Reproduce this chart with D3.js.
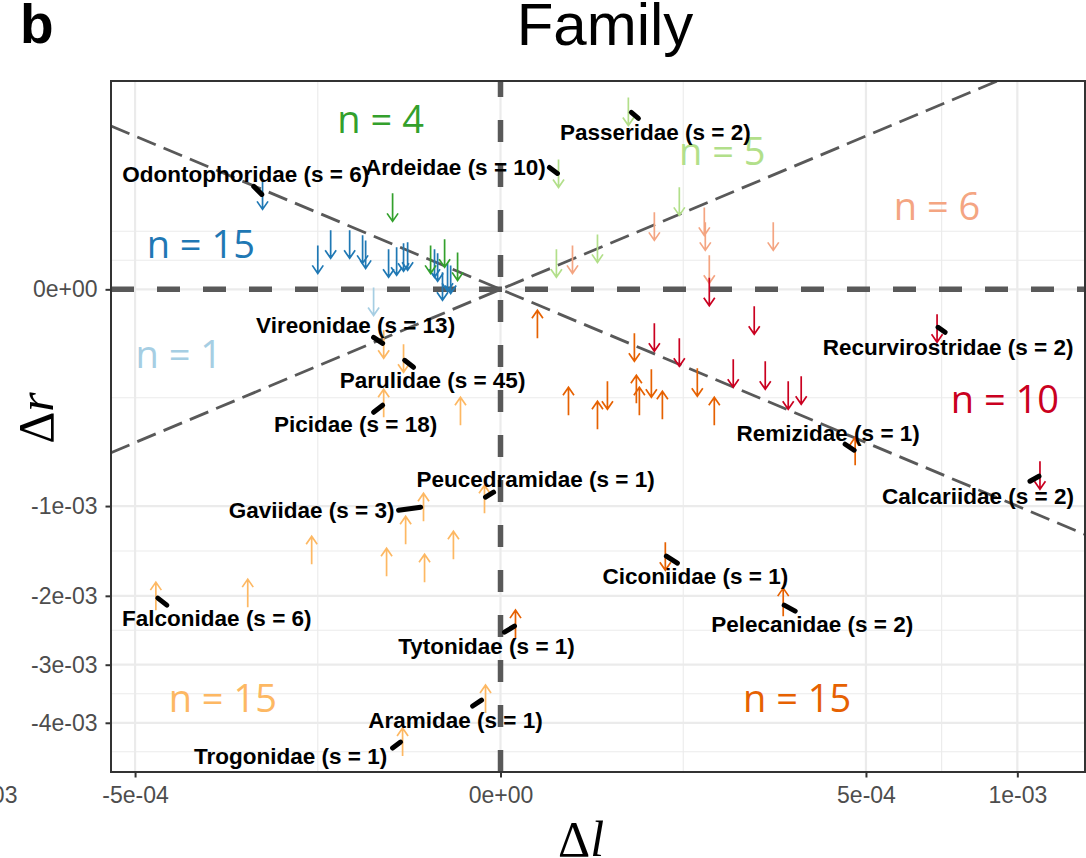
<!DOCTYPE html>
<html>
<head>
<meta charset="utf-8">
<script src="https://cdn.jsdelivr.net/npm/d3@7"></script>
<style>
  body { margin: 0; background: #fff; }
  svg { display: block; }
</style>
</head>
<body>
<div id="chart"></div>
<script>
// each arrow: [delta l, delta r, direction]  (-1 = down arrow, 1 = up arrow)
const blueArrows = [
  [-2.12e-4, 1.88e-4, -1], [-1.25e-4, 1.91e-5, -1], [-1.08e-4, 4.31e-5, -1], [-8.52e-5, 4.31e-5, -1],
  [-7.12e-5, 3.40e-5, -1], [-6.81e-5, 2.60e-5, -1], [-4.69e-5, 1.44e-5, -1], [-4.04e-5, 1.67e-5, -1],
  [-3.52e-5, 2.18e-5, -1], [-3.23e-5, 2.32e-5, -1], [-1.63e-5, 1.44e-5, -1], [-1.48e-5, 1.03e-5, -1],
  [-1.26e-5, 1.9e-7, -1], [-1.05e-5, 3.1e-6, -1], [-9.3e-6, 2.1e-6, -1]
];
const greenArrows = [
  [-4.36e-5, 1.43e-4, -1], [-1.83e-5, 1.91e-5, -1], [-1.17e-5, 2.76e-5, -1], [-6.9e-6, 1.12e-5, -1]
];
const lightBlueArrows = [
  [-6.03e-5, -3.1e-6, -1]
];
const lightGreenArrows = [
  [6.12e-5, 6.74e-4, -1], [1.26e-5, 2.86e-4, -1], [1.197e-4, 1.647e-4, -1], [3.52e-5, 3.57e-5, -1],
  [1.17e-5, 1.44e-5, -1]
];
const salmonArrows = [
  [8.86e-5, 8.44e-5, -1], [1.94e-5, 1.91e-5, -1], [1.555e-4, 9.83e-5, -1], [1.57e-4, 5.97e-5, -1],
  [1.632e-4, 8.5e-6, -1], [2.785e-4, 5.97e-5, -1]
];
const redArrows = [
  [1.632e-4, -1.3e-7, -1], [2.41e-4, -2.04e-5, -1], [8.86e-5, -4.9e-5, -1], [1.197e-4, -8.44e-5, -1],
  [2.028e-4, -1.5e-4, -1], [2.624e-4, -1.573e-4, -1], [3.099e-4, -2.389e-4, -1], [3.385e-4, -2.169e-4, -1],
  [7.135e-4, -3.23e-5, -1], [1.0895e-3, -7.356e-4, -1]
];
const orangeArrows = [
  [5.1e-6, -2.6e-5, 1], [6.71e-5, -7.15e-5, -1], [1.73e-5, -2.667e-4, 1], [3.52e-5, -3.376e-4, 1],
  [4.28e-5, -2.389e-4, -1], [6.91e-5, -2.126e-4, 1], [7.22e-5, -2.667e-4, 1], [8.52e-5, -1.879e-4, -1],
  [9.81e-5, -2.861e-4, 1], [1.45e-4, -1.839e-4, -1], [1.711e-4, -3.165e-4, 1], [4.709e-4, -5.58e-4, 1],
  [1.017e-4, -1.5158e-3, -1], [2.992e-4, -2.0831e-3, 1], [8.4e-7, -2.3862e-3, 1]
];
const lightOrangeArrows = [
  [-5.11e-5, -6.43e-5, -1], [-3.52e-5, -1.012e-4, -1], [-5.11e-5, -2.763e-4, 1], [-6.0e-6, -3.165e-4, 1],
  [-1.335e-4, -1.4485e-3, 1], [-4.86e-5, -1.5847e-3, 1], [-3.37e-5, -1.235e-3, 1], [-2.22e-5, -1.0105e-3, 1],
  [-2.16e-5, -1.6551e-3, 1], [-8.3e-6, -1.3935e-3, 1], [-9.6e-7, -9.377e-4, 1], [-4.447e-4, -2.004e-3, 1],
  [-2.392e-4, -1.965e-3, 1], [-8.4e-7, -3.574e-3, 1], [-3.59e-5, -4.363e-3, 1]
];

const groupKeys = ['blue', 'green', 'lightBlue', 'lightGreen', 'salmon', 'red', 'orange', 'lightOrange'];
const groupArrows = [blueArrows, greenArrows, lightBlueArrows, lightGreenArrows, salmonArrows, redArrows, orangeArrows, lightOrangeArrows];
// where the "n = .." count sits, in data units
const countLabelAt = [
  [-3.363e-4, 4.31e-5], [-5.38e-5, 6.145e-4], [-3.874e-4, -8.98e-5], [1.841e-4, 4.049e-4],
  [7.135e-4, 1.465e-4], [9.528e-4, -2.573e-4], [3.296e-4, -3.574e-3], [-2.887e-4, -3.574e-3]
];

const families = ['Odontophoridae', 'Ardeidae', 'Passeridae', 'Vireonidae', 'Parulidae', 'Picidae',
  'Peucedramidae', 'Gaviidae', 'Falconidae', 'Tytonidae', 'Aramidae', 'Trogonidae', 'Ciconiidae',
  'Pelecanidae', 'Remizidae', 'Recurvirostridae', 'Calcariidae'];
const familyS = [6, 10, 2, 13, 45, 18, 1, 3, 6, 1, 1, 1, 1, 2, 1, 2, 2];
const familyLabelAt = [
  [-2.43e-4, 2.812e-4], [-7.6e-6, 3.165e-4], [8.98e-5, 5.241e-4], [-7.86e-5, -2.76e-5],
  [-1.73e-5, -1.761e-4], [-7.86e-5, -3.875e-4], [4.6e-6, -7.676e-4], [-1.335e-4, -1.0385e-3],
  [-3.013e-4, -2.3015e-3], [-7.3e-7, -2.71e-3], [-7.6e-6, -3.95e-3], [-1.648e-4, -4.637e-3],
  [1.421e-4, -1.7514e-3], [3.637e-4, -2.3862e-3], [4.02e-4, -4.409e-4], [7.499e-4, -7.15e-5],
  [8.537e-4, -9.111e-4]
];
// repel segments [l1, r1, l2, r2]
const familySegments = [
  [-2.279e-4, 2.256e-4, -2.134e-4, 1.919e-4], [8.97e-6, 3.165e-4, 1.214e-5, 2.861e-4],
  [6.41e-5, 6.661e-4, 7.12e-5, 6.218e-4], [-6.03e-5, -4.9e-5, -5.2e-5, -6.2e-5],
  [-3.44e-5, -1.072e-4, -2.83e-5, -1.294e-4], [-6.03e-5, -3.217e-4, -5.2e-5, -2.861e-4],
  [-8.4e-7, -9.199e-4, -1.8e-7, -8.762e-4], [-3.89e-5, -1.0385e-3, -2.39e-5, -1.0105e-3],
  [-4.396e-4, -2.0302e-3, -4.168e-4, -2.1233e-3], [6e-8, -2.5016e-3, 7.3e-7, -2.4148e-3],
  [-2.9e-6, -3.697e-3, -1.35e-6, -3.592e-3], [-4.36e-5, -4.48e-3, -3.74e-5, -4.363e-3],
  [1.03e-4, -1.5158e-3, 1.171e-4, -1.5963e-3], [3.013e-4, -2.1233e-3, 3.251e-4, -2.2046e-3],
  [4.447e-4, -5.108e-4, 4.682e-4, -5.512e-4], [7.168e-4, -3.07e-5, 7.399e-4, -3.93e-5],
  [1.0495e-3, -7.838e-4, 1.0855e-3, -7.435e-4]
];

const xTicks = [-1e-3, -5e-4, 0, 5e-4, 1e-3];
const xTickLabels = ['-1e-03', '-5e-04', '0e+00', '5e-04', '1e-03'];
const yTicks = [0, -1e-3, -2e-3, -3e-3, -4e-3];
const yTickLabels = ['0e+00', '-1e-03', '-2e-03', '-3e-03', '-4e-03'];
const refSlopes = [1, -1];   // delta r = +/- delta l

const colors = {
  blue: '#1F78B4', green: '#33A02C', lightBlue: '#A6CEE3', lightGreen: '#B2DF8A',
  salmon: '#F4A582', red: '#CA0020', orange: '#E66101', lightOrange: '#FDB863'
};

const W = 1086, H = 858;
const panel = {left: 111, right: 1085, top: 81, bottom: 772};
const xDomain = [-5.68e-4, 1.279e-3];
const yDomain = [-4.96e-3, 9.24e-4];

const svg = d3.select('#chart').append('svg')
    .attr('width', W)
    .attr('height', H)
    .attr('font-family', '"Liberation Sans", Arial, sans-serif');

const x = d3.scalePow().exponent(0.5).domain(xDomain).range([panel.left, panel.right]);
const y = d3.scalePow().exponent(0.5).domain(yDomain).range([panel.bottom, panel.top]);

// ggplot style minor breaks (midpoints in sqrt space)
const tr = v => Math.sign(v) * Math.sqrt(Math.abs(v));
const untr = t => Math.sign(t) * t * t;
const minorBreaks = (major, domain) => {
    const lim = domain.map(tr);
    const b = major.map(tr).filter(t => t >= lim[0] && t <= lim[1]).sort((a, c) => a - c);
    const bd = b[1] - b[0];
    if (lim[0] < b[0]) b.unshift(b[0] - bd);
    if (lim[1] > b[b.length - 1]) b.push(b[b.length - 1] + bd);
    const out = [];
    b.forEach((t, i) => {
        out.push(t);
        if (i < b.length - 1) out.push((t + b[i + 1]) / 2);
    });
    return out.filter(t => t > lim[0] && t < lim[1])
        .filter(t => !major.some(m => Math.abs(tr(m) - t) < 1e-9))
        .map(untr);
};
const inX = v => v >= xDomain[0] && v <= xDomain[1];
const inY = v => v >= yDomain[0] && v <= yDomain[1];

const grid = svg.append('g').attr('class', 'grid').attr('stroke', '#EBEBEB');
grid.selectAll('.vminor').data(minorBreaks(xTicks, xDomain)).enter().append('line')
    .attr('x1', d => x(d)).attr('x2', d => x(d))
    .attr('y1', panel.top).attr('y2', panel.bottom)
    .attr('stroke-width', 1.1);
grid.selectAll('.hminor').data(minorBreaks(yTicks, yDomain)).enter().append('line')
    .attr('y1', d => y(d)).attr('y2', d => y(d))
    .attr('x1', panel.left).attr('x2', panel.right)
    .attr('stroke-width', 1.1);
grid.selectAll('.vmajor').data(xTicks.filter(inX)).enter().append('line')
    .attr('x1', d => x(d)).attr('x2', d => x(d))
    .attr('y1', panel.top).attr('y2', panel.bottom)
    .attr('stroke-width', 2.2);
grid.selectAll('.hmajor').data(yTicks.filter(inY)).enter().append('line')
    .attr('y1', d => y(d)).attr('y2', d => y(d))
    .attr('x1', panel.left).attr('x2', panel.right)
    .attr('stroke-width', 2.2);

svg.append('clipPath').attr('id', 'panel-clip')
  .append('rect')
    .attr('x', panel.left).attr('y', panel.top)
    .attr('width', panel.right - panel.left).attr('height', panel.bottom - panel.top);

const g = svg.append('g').attr('clip-path', 'url(#panel-clip)');

// diagonal reference lines
g.selectAll('.ref').data(refSlopes).enter().append('line')
    .attr('x1', x(xDomain[0])).attr('y1', s => y(s * xDomain[0]))
    .attr('x2', x(xDomain[1])).attr('y2', s => y(s * xDomain[1]))
    .attr('stroke', '#595959')
    .attr('stroke-width', 2.8)
    .attr('stroke-dasharray', '20 8.5');

// zero lines
g.append('line')
    .attr('x1', panel.left).attr('x2', panel.right)
    .attr('y1', y(0)).attr('y2', y(0))
    .attr('stroke', '#595959').attr('stroke-width', 5.5)
    .attr('stroke-dasharray', '23 23');
g.append('line')
    .attr('x1', x(0)).attr('x2', x(0))
    .attr('y1', panel.bottom).attr('y2', panel.top)
    .attr('stroke', '#595959').attr('stroke-width', 5.5)
    .attr('stroke-dasharray', '22 23');

// arrows
const half = 14, headL = 8, headW = 5.5;
const arrowPath = d => {
    const cx = x(d[0]), cy = y(d[1]), dir = d[2];
    const tip = cy - dir * half, tail = cy + dir * half;
    return `M${cx},${tail}L${cx},${tip}M${cx - headW},${tip + dir * headL}L${cx},${tip}L${cx + headW},${tip + dir * headL}`;
};
groupKeys.forEach((key, i) => {
    g.append('g').attr('class', 'arrows-' + key)
      .selectAll('path').data(groupArrows[i]).enter().append('path')
        .attr('d', arrowPath)
        .attr('fill', 'none')
        .attr('stroke', colors[key])
        .attr('stroke-width', 1.7);
});

// n = .. counts
g.selectAll('.count').data(groupKeys).enter().append('text')
    .attr('x', (k, i) => x(countLabelAt[i][0]))
    .attr('y', (k, i) => y(countLabelAt[i][1]))
    .attr('dy', '0.35em')
    .attr('text-anchor', 'middle')
    .attr('font-family', '"Open Sans", sans-serif')
    .attr('font-size', 38)
    .attr('fill', k => colors[k])
    .text((k, i) => 'n = ' + groupArrows[i].length);

// family label segments and labels
g.selectAll('.seg').data(familySegments).enter().append('line')
    .attr('x1', d => x(d[0])).attr('y1', d => y(d[1]))
    .attr('x2', d => x(d[2])).attr('y2', d => y(d[3]))
    .attr('stroke', '#000')
    .attr('stroke-width', 5)
    .attr('stroke-linecap', 'round');

g.selectAll('.fam').data(families).enter().append('text')
    .attr('x', (f, i) => x(familyLabelAt[i][0]))
    .attr('y', (f, i) => y(familyLabelAt[i][1]))
    .attr('dy', '0.35em')
    .attr('text-anchor', 'middle')
    .attr('font-size', 22.5)
    .attr('font-weight', 'bold')
    .attr('fill', '#000')
    .text((f, i) => `${f} (s = ${familyS[i]})`);

// panel border
svg.append('rect')
    .attr('x', panel.left).attr('y', panel.top)
    .attr('width', panel.right - panel.left).attr('height', panel.bottom - panel.top)
    .attr('fill', 'none')
    .attr('stroke', '#333333')
    .attr('stroke-width', 2);

// axes
const xAxisG = svg.append('g')
    .attr('transform', `translate(0,${panel.bottom})`)
    .call(d3.axisBottom(x).tickValues(xTicks).tickFormat((d, i) => xTickLabels[i]).tickSize(5.5).tickPadding(9));
const yAxisG = svg.append('g')
    .attr('transform', `translate(${panel.left},0)`)
    .call(d3.axisLeft(y).tickValues(yTicks).tickFormat((d, i) => yTickLabels[i]).tickSize(5.5).tickPadding(8));

[xAxisG, yAxisG].forEach(a => {
    a.select('.domain').remove();
    a.attr('font-family', '"Liberation Sans", Arial, sans-serif').attr('font-size', 23);
    a.selectAll('line').attr('stroke', '#333333').attr('stroke-width', 2);
    a.selectAll('text').attr('fill', '#4D4D4D');
});

// titles
svg.append('text')
    .attr('x', 20).attr('y', 43)
    .attr('font-size', 55)
    .attr('font-weight', 'bold')
    .text('b');

svg.append('text')
    .attr('x', 605).attr('y', 45)
    .attr('text-anchor', 'middle')
    .attr('font-size', 60)
    .text('Family');

const serif = '"Liberation Serif", "Times New Roman", serif';
const xTitle = svg.append('text')
    .attr('x', 581).attr('y', 856)
    .attr('text-anchor', 'middle')
    .attr('font-family', serif)
    .attr('font-size', 50);
xTitle.append('tspan').text('Δ');
xTitle.append('tspan').attr('font-style', 'italic').text('l');

const yTitle = svg.append('text')
    .attr('transform', 'translate(53,418) rotate(-90)')
    .attr('text-anchor', 'middle')
    .attr('font-family', serif)
    .attr('font-size', 50);
yTitle.append('tspan').text('Δ');
yTitle.append('tspan').attr('font-style', 'italic').text('r');
</script>
</body>
</html>
